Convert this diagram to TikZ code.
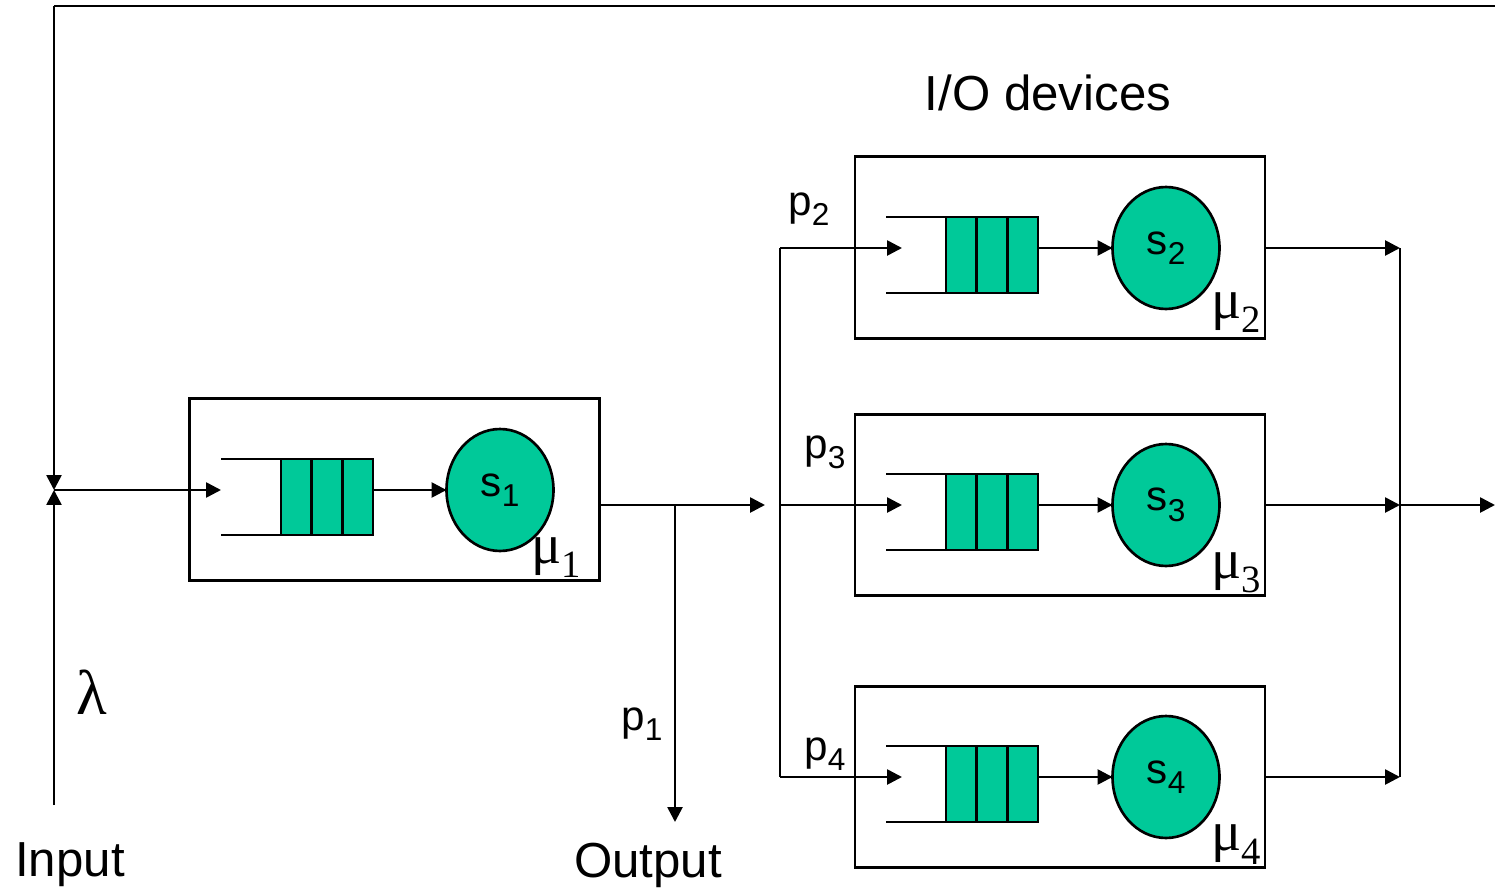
\documentclass[tikz,border=0pt]{standalone}
\usepackage{fontspec}
\setmainfont{Liberation Sans}
\newfontfamily\seriffont{Liberation Serif}
\usetikzlibrary{arrows.meta,shapes.geometric}
\definecolor{qgreen}{RGB}{0,201,153}
\newcommand\lowsub[1]{\raisebox{-6pt}{\fontsize{18}{20}\selectfont #1}}
\newcommand\musub[1]{\raisebox{-8pt}{\fontsize{22}{24}\selectfont #1}}
\begin{document}
\begin{tikzpicture}[x=0.02cm,y=-0.02cm,
 line width=1.5pt,
 arr/.style={-{Triangle[length=8.5pt,width=8.5pt]}},
 boxnode/.style={draw,inner sep=0,outer sep=0,minimum width=8.2cm,minimum height=3.63cm},
 srv/.style={ellipse,draw,fill=qgreen,inner sep=0,outer sep=0,minimum width=2.14cm,minimum height=2.44cm,font=\fontsize{24}{28}\selectfont},
 qfill/.style={draw,fill=qgreen,inner sep=0,outer sep=0,minimum width=1.84cm,minimum height=1.52cm},
 lbl/.style={font=\fontsize{28}{32}\selectfont,inner sep=0},
 plbl/.style={font=\fontsize{24}{28}\selectfont,inner sep=0,anchor=base west},
 mulbl/.style={font=\seriffont\fontsize{32}{36}\selectfont,inner sep=0,anchor=base west},
]
\useasboundingbox (0,0) rectangle (1495,892);

% boxes
\node[boxnode] (box1) at (394.5,489.5) {};
\node[boxnode] (box2) at (1060,247.5) {};
\node[boxnode] (box3) at (1060,505) {};
\node[boxnode] (box4) at (1060,777) {};

% queues and servers
\foreach \n/\qx/\cx/\y in {1/327/500/490, 2/992/1166/248, 3/992/1166/505, 4/992/1166/777} {
  \node[qfill] (q\n) at (\qx,\y+7) {};
  \draw (q\n.north west) -- ++(-60,0);
  \draw (q\n.south west) -- ++(-60,0);
  \draw ([xshift=0.6133cm]q\n.north west) -- ([xshift=0.6133cm]q\n.south west);
  \draw ([xshift=1.2267cm]q\n.north west) -- ([xshift=1.2267cm]q\n.south west);
  \node[srv] (s\n) at (\cx,\y) {s\lowsub{\n}};
  \draw[arr] (q\n.east |- s\n) -- (s\n.west);
}

% coordinates
\coordinate (top) at (54,6);
\coordinate (topR) at (1495,6);
\coordinate (jin) at (54,490);
\coordinate (inb) at (54,805);
\coordinate (qin1) at (221,490);
\coordinate (j1) at (675,505);
\coordinate (m1) at (765,505);
\coordinate (out) at (675,822);
\coordinate (b2) at (780,248);
\coordinate (b3) at (780,505);
\coordinate (b4) at (780,777);
\coordinate (i2) at (902,248);
\coordinate (i3) at (902,505);
\coordinate (i4) at (902,777);
\coordinate (c2) at (1400,248);
\coordinate (c3) at (1400,505);
\coordinate (c4) at (1400,777);
\coordinate (fin) at (1495,505);

% connectors
\draw (topR) -- (top);
\draw[arr] (top) -- (jin);
\draw[arr] (inb) -- (jin);
\draw[arr] (jin) -- (qin1);
\draw (box1.east |- j1) -- (j1);
\draw[arr] (j1) -- (m1);
\draw[arr] (j1) -- (out);
\draw (b2) -- (b4);
\draw[arr] (b2) -- (i2);
\draw[arr] (b3) -- (i3);
\draw[arr] (b4) -- (i4);
\draw[arr] (box2.east |- c2) -- (c2);
\draw[arr] (box3.east |- c3) -- (c3);
\draw[arr] (box4.east |- c4) -- (c4);
\draw (c2) -- (c4);
\draw[arr] (c3) -- (fin);

% labels
\node[lbl] (inputlbl) at (70,865) {Input};
\node[lbl] (outputlbl) at (648,865) {Output};
\node[lbl] (io) at (1048,93) {I/O devices};
\node[font=\seriffont\fontsize{36}{40}\selectfont,inner sep=0] (lam) at (92,692) {λ};
\node[plbl] (p1) at (620,730) {p\lowsub{1}};
\node[plbl] (p2) at (787,215) {p\lowsub{2}};
\node[plbl] (p3) at (803,458) {p\lowsub{3}};
\node[plbl] (p4) at (803,760) {p\lowsub{4}};
\node[mulbl] (mu1) at (530,563) {μ\musub{1}};
\node[mulbl] (mu2) at (1210,318) {μ\musub{2}};
\node[mulbl] (mu3) at (1210,578) {μ\musub{3}};
\node[mulbl] (mu4) at (1210,850) {μ\musub{4}};
\end{tikzpicture}
\end{document}
